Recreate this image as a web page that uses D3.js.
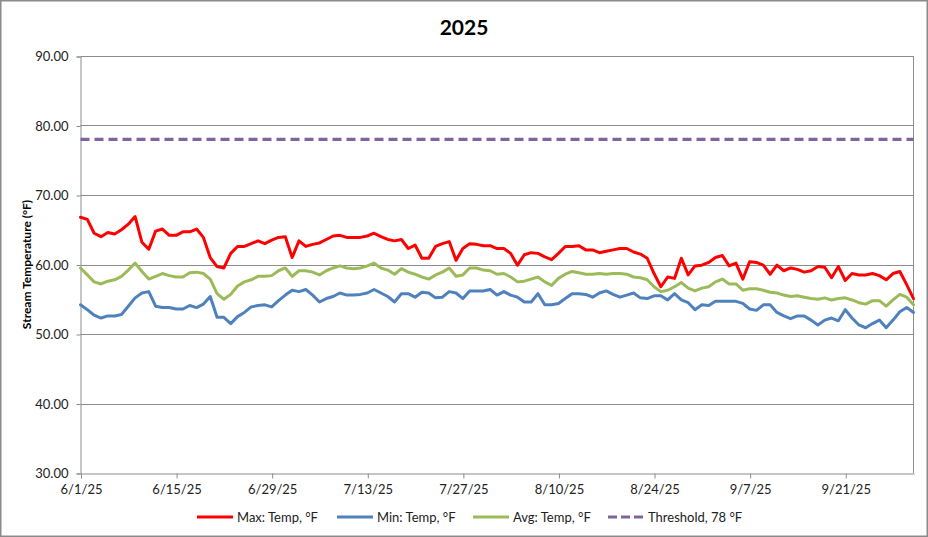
<!DOCTYPE html>
<html>
<head>
<meta charset="utf-8">
<script src="https://cdn.jsdelivr.net/npm/d3@7"></script>
<style>
  html, body { margin: 0; padding: 0; background: #fff; }
  svg { display: block; }
  text { font-family: Lato, "Liberation Sans", sans-serif; }
</style>
</head>
<body>
<svg id="chart" width="928" height="537"></svg>
<script>
// ---- data ----
const chartTitle = "2025";
const startDate = "2025-06-01";
const axisEndDate = "2025-10-01";
const yTickValues = [30, 40, 50, 60, 70, 80, 90];
const xTickLabels = ["6/1/25", "6/15/25", "6/29/25", "7/13/25", "7/27/25", "8/10/25", "8/24/25", "9/7/25", "9/21/25"];
const thresholdValue = 78;

const maxTemp = [
  66.8, 66.5, 64.5, 64.0, 64.6, 64.4, 65.0, 65.8, 66.9, 63.2,
  62.2, 64.8, 65.1, 64.2, 64.2, 64.7, 64.7, 65.1, 63.9, 61.0,
  59.7, 59.5, 61.6, 62.6, 62.6, 63.0, 63.4, 63.0, 63.5, 63.9,
  64.0, 61.0, 63.4, 62.6, 62.9, 63.1, 63.6, 64.1, 64.2, 63.9,
  63.9, 63.9, 64.1, 64.5, 64.0, 63.6, 63.4, 63.6, 62.3, 62.8,
  60.9, 60.9, 62.6, 63.0, 63.3, 60.6, 62.3, 63.0, 62.9, 62.7,
  62.7, 62.3, 62.3, 61.6, 59.9, 61.4, 61.7, 61.6, 61.1, 60.7,
  61.6, 62.6, 62.6, 62.7, 62.1, 62.1, 61.7, 61.9, 62.1, 62.3,
  62.3, 61.8, 61.5, 60.9, 58.7, 56.8, 58.2, 58.0, 60.9, 58.5,
  59.8, 59.9, 60.3, 61.0, 61.3, 59.8, 60.2, 57.9, 60.4, 60.3,
  59.9, 58.6, 59.9, 59.1, 59.5, 59.3, 58.9, 59.1, 59.7, 59.6,
  58.1, 59.7, 57.7, 58.7, 58.5, 58.5, 58.7, 58.4, 57.8, 58.7,
  59.0, 57.1, 55.1
];
const minTemp = [
  54.2, 53.5, 52.7, 52.3, 52.6, 52.6, 52.8, 54.0, 55.2, 55.9,
  56.1, 54.0, 53.8, 53.8, 53.6, 53.6, 54.1, 53.8, 54.3, 55.4,
  52.4, 52.4, 51.5, 52.5, 53.1, 53.9, 54.1, 54.2, 53.9, 54.8,
  55.6, 56.3, 56.1, 56.4, 55.6, 54.6, 55.1, 55.4, 55.9, 55.6,
  55.6, 55.7, 55.9, 56.4, 55.9, 55.4, 54.6, 55.8, 55.8, 55.3,
  56.0, 55.9, 55.2, 55.3, 56.1, 55.9, 55.1, 56.2, 56.2, 56.2,
  56.4, 55.6, 56.1, 55.6, 55.3, 54.6, 54.6, 55.8, 54.2, 54.2,
  54.4, 55.1, 55.8, 55.8, 55.7, 55.3, 55.9, 56.2, 55.7, 55.3,
  55.6, 55.9, 55.2, 55.1, 55.5, 55.5, 54.9, 55.8, 54.9, 54.5,
  53.5, 54.2, 54.1, 54.7, 54.7, 54.7, 54.7, 54.4, 53.6, 53.4,
  54.2, 54.2, 53.1, 52.6, 52.2, 52.6, 52.6, 52.0, 51.3, 52.0,
  52.3, 51.9, 53.5, 52.3, 51.3, 50.9, 51.5, 52.0, 50.9, 52.0,
  53.2, 53.8, 53.1
];
const avgTemp = [
  59.5, 58.5, 57.5, 57.2, 57.6, 57.8, 58.3, 59.2, 60.2, 59.0,
  57.9, 58.3, 58.7, 58.4, 58.2, 58.2, 58.8, 58.9, 58.7, 57.9,
  55.8, 55.0, 55.7, 56.9, 57.5, 57.8, 58.3, 58.3, 58.4, 59.1,
  59.5, 58.3, 59.1, 59.1, 58.9, 58.5, 59.1, 59.5, 59.8, 59.5,
  59.4, 59.5, 59.8, 60.2, 59.5, 59.2, 58.6, 59.4, 58.9, 58.6,
  58.2, 57.9, 58.5, 58.9, 59.5, 58.3, 58.5, 59.5, 59.5, 59.2,
  59.1, 58.6, 58.7, 58.2, 57.5, 57.6, 57.9, 58.2, 57.5, 57.0,
  58.0, 58.6, 59.0, 58.8, 58.6, 58.6, 58.7, 58.6, 58.7, 58.7,
  58.6, 58.2, 58.1, 57.8, 56.8, 56.1, 56.3, 56.8, 57.4, 56.6,
  56.2, 56.6, 56.8, 57.5, 57.9, 57.2, 57.2, 56.3, 56.5, 56.5,
  56.3, 56.0, 55.9, 55.6, 55.4, 55.5, 55.3, 55.1, 55.0, 55.2,
  54.9, 55.1, 55.2, 54.9, 54.5, 54.3, 54.8, 54.8, 54.0, 54.9,
  55.7, 55.3, 54.2
];

const seriesNames = ["Max: Temp, °F", "Min: Temp, °F", "Avg: Temp, °F", "Threshold, 78 °F"];
const seriesColors = ["#FF0000", "#4F81BD", "#9BBB59", "#8064A2"];

// ---- drawing ----
const W = 928, H = 537;
const margin = { left: 80.5, right: 913.5, top: 56, bottom: 473 };
const svg = d3.select("#chart");

const parse = d3.utcParse("%Y-%m-%d");
const d0 = parse(startDate);
const dates = maxTemp.map((_, i) => d3.utcDay.offset(d0, i));

const x = d3.scaleUtc().domain([d0, parse(axisEndDate)]).range([margin.left, margin.right]);
const y = d3.scaleLinear().domain([30, 90]).range([margin.bottom, margin.top]);

// outer border
svg.append("rect").attr("x", 0.75).attr("y", 0.75).attr("width", W - 1.5).attr("height", H - 1.5)
  .attr("fill", "#fff").attr("stroke", "#8a8a8a").attr("stroke-width", 1.5);

// gridlines
svg.append("g").selectAll("line").data(yTickValues.filter(v => v > 30)).join("line")
  .attr("x1", margin.left).attr("x2", margin.right)
  .attr("y1", d => Math.round(y(d)) + 0.5).attr("y2", d => Math.round(y(d)) + 0.5)
  .attr("stroke", "#8c8c8c").attr("stroke-width", 1);

// right border of plot
svg.append("line").attr("x1", margin.right).attr("x2", margin.right)
  .attr("y1", margin.top).attr("y2", margin.bottom)
  .attr("stroke", "#8c8c8c").attr("stroke-width", 1);

// y axis
const yAxis = d3.axisLeft(y).tickValues(yTickValues).tickFormat(d3.format(".2f")).tickSize(4).tickPadding(8);
const gy = svg.append("g").attr("transform", `translate(${margin.left},0.5)`).call(yAxis);
gy.select(".domain").attr("stroke", "#8c8c8c");
gy.selectAll(".tick line").attr("stroke", "#8c8c8c");
gy.selectAll(".tick text").attr("font-size", 13).attr("fill", "#222")
  .attr("font-family", "Lato, 'Liberation Sans', sans-serif");

// x axis
const xTickDates = xTickLabels.map(s => d3.utcParse("%m/%d/%y")(s));
const xAxis = d3.axisBottom(x).tickValues(xTickDates).tickFormat((d, i) => xTickLabels[i]).tickSize(5).tickPadding(6).tickSizeOuter(0);
const gx = svg.append("g").attr("transform", `translate(0.5,${margin.bottom + 0.5})`).call(xAxis);
gx.select(".domain").attr("stroke", "#8c8c8c");
gx.selectAll(".tick line").attr("stroke", "#8c8c8c");
gx.selectAll(".tick text").attr("font-size", 13).attr("fill", "#222")
  .attr("font-family", "Lato, 'Liberation Sans', sans-serif");

// threshold line
svg.append("line")
  .attr("x1", x(d0)).attr("x2", x(dates[dates.length - 1]))
  .attr("y1", y(thresholdValue)).attr("y2", y(thresholdValue))
  .attr("stroke", seriesColors[3]).attr("stroke-width", 3.2)
  .attr("stroke-dasharray", "9,5");

// series lines
const line = d3.line().x((d, i) => x(dates[i])).y(d => y(d)).curve(d3.curveLinear);
[[minTemp, 1], [avgTemp, 2], [maxTemp, 0]].forEach(([arr, ci]) => {
  svg.append("path").datum(arr).attr("d", line)
    .attr("fill", "none").attr("stroke", seriesColors[ci]).attr("stroke-width", 3)
    .attr("stroke-linejoin", "round").attr("stroke-linecap", "round");
});

// title
svg.append("text").attr("x", 464).attr("y", 35).attr("text-anchor", "middle")
  .attr("font-size", 21).attr("font-weight", "bold").attr("fill", "#000").text(chartTitle);

// y title
svg.append("text").attr("transform", `translate(31,${(margin.top + margin.bottom) / 2}) rotate(-90)`)
  .attr("text-anchor", "middle").attr("font-size", 12).attr("font-weight", "bold").attr("fill", "#000")
  .text("Stream Temperature (°F)");

// legend
const legendItems = [
  { x: 197, name: seriesNames[0], color: seriesColors[0], dash: null },
  { x: 337, name: seriesNames[1], color: seriesColors[1], dash: null },
  { x: 473, name: seriesNames[2], color: seriesColors[2], dash: null },
  { x: 608, name: seriesNames[3], color: seriesColors[3], dash: "9,4" }
];
const lg = svg.append("g");
legendItems.forEach(it => {
  lg.append("line").attr("x1", it.x).attr("x2", it.x + 36).attr("y1", 517).attr("y2", 517)
    .attr("stroke", it.color).attr("stroke-width", 3.2).attr("stroke-dasharray", it.dash);
  lg.append("text").attr("x", it.x + 40).attr("y", 521.5).attr("font-size", 13).attr("fill", "#222").text(it.name);
});
</script>
</body>
</html>
